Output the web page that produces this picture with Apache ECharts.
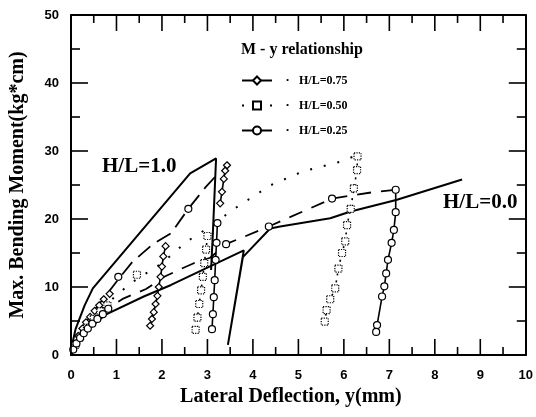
<!DOCTYPE html>
<html>
<head>
<meta charset="utf-8">
<script src="https://cdn.jsdelivr.net/npm/echarts@6/dist/echarts.min.js"></script>
<style>
  html, body { margin: 0; padding: 0; background: #fff; }
  #chart { width: 536px; height: 417px; }
</style>
</head>
<body>
<div id="chart"></div>
<script>
// Axis ranges and tick values
const xTicks = [0, 1, 2, 3, 4, 5, 6, 7, 8, 9, 10];
const yTicks = [0, 10, 20, 30, 40, 50];
const xMinorTicks = [0.5, 1.5, 2.5, 3.5, 4.5, 5.5, 6.5, 7.5, 8.5, 9.5];
const yMinorTicks = [5, 15, 25, 35, 45];

// H/L = 1.0 and H/L = 0.0 envelopes (plain solid lines)
const hl10 = [[0, 0], [0.04, 2], [0.1, 3.8], [0.3, 7.3], [0.48, 9.8], [2.62, 26.7], [3.19, 28.9], [3.12, 18], [3.08, 12.5]];
const hl00 = [[0, 0], [0.1, 1.8], [0.3, 3.3], [0.75, 5.9], [1.6, 8.6], [2.2, 10.3], [3.8, 15.4], [3.45, 1.5], [3.78, 14.4],
              [4.38, 18.6], [4.6, 18.9], [5.7, 20.1], [6.15, 21.1], [7.15, 22.8], [8.6, 25.8]];

// H/L = 0.75 : envelope, scattered points, unloading branches
const env75 = [[0, 0], [0.15, 2.6], [0.3, 4.5], [0.5, 6.5], [0.75, 8.6], [1.05, 11.2], [1.35, 13.7], [1.8, 16.3],
               [2.2, 17.9], [2.58, 21.5], [2.95, 24.6], [3.25, 26.8]];
const pts75 = [[0.08, 1.5], [0.16, 2.8], [0.25, 3.9], [0.33, 4.8], [0.42, 5.6], [0.52, 6.5], [0.62, 7.3], [0.72, 8.2], [0.85, 9]];
const branch75a = [[2.08, 16], [2.03, 14.5], [2.0, 13], [1.97, 11.5], [1.93, 10], [1.9, 8.7], [1.86, 7.5], [1.82, 6.3], [1.78, 5.3], [1.74, 4.3]];
const branch75b = [[3.43, 27.9], [3.39, 27.1], [3.36, 25.9], [3.32, 24], [3.28, 22.3]];

// H/L = 0.50
const env50 = [[0, 0], [0.3, 3.5], [0.7, 7], [1.3, 10.5], [2.0, 13.5], [2.55, 16.7], [2.9, 18.2], [3.7, 22], [4.05, 23.5],
               [4.4, 25], [5.1, 27], [5.5, 27.7], [5.9, 28.4], [6.3, 29.4]];
const pts50 = [[0.1, 1.5], [0.2, 2.6], [0.35, 4], [0.5, 5.3], [0.65, 6.4], [0.8, 7.3], [1.45, 11.8]];
const branch50a = [[3.0, 17.5], [2.97, 15.5], [2.93, 13.5], [2.9, 11.5], [2.86, 9.5], [2.82, 7.5], [2.78, 5.5], [2.74, 3.7]];
const branch50b = [[6.3, 29.2], [6.29, 27.2], [6.22, 24.5], [6.15, 21.5], [6.07, 19.1], [6.03, 16.7], [5.96, 15], [5.88, 12.7],
                   [5.81, 9.8], [5.7, 8.2], [5.62, 6.6], [5.58, 4.9]];

// H/L = 0.25
const env25 = [[0, 0], [0.2, 2.2], [0.5, 4.5], [0.8, 6.8], [1.15, 8.3], [1.65, 9.7], [2.05, 11.5], [2.4, 12.6], [2.7, 13.5],
               [3.06, 14.3], [3.41, 16.3], [4.35, 18.9], [5.74, 23.0], [6.6, 23.9], [7.14, 24.3]];
const pts25 = [[0.05, 0.8], [0.12, 1.7], [0.2, 2.5], [0.28, 3.2], [0.37, 3.9], [0.47, 4.6], [0.58, 5.3], [0.7, 6], [0.82, 6.8],
               [1.04, 11.5], [3.41, 16.3], [4.35, 18.9], [5.74, 23.0], [2.58, 21.5]];
const branch25a = [[3.22, 19.4], [3.2, 16.5], [3.18, 14], [3.16, 11], [3.14, 8.5], [3.12, 6], [3.1, 3.8]];
const branch25b = [[7.14, 24.3], [7.14, 21.0], [7.1, 18.4], [7.05, 16.5], [6.97, 14], [6.93, 12], [6.89, 10.1], [6.84, 8.6],
                   [6.73, 4.4], [6.71, 3.4]];

const SERIF = 'Liberation Serif';
const SANS = 'Liberation Sans';
const INK = '#000';

// Layout of the plotting area
const GRID = { left: 71, right: 10, top: 15, bottom: 62 };
const CHART_W = 536, CHART_H = 417;
const X_MIN = xTicks[0], X_MAX = xTicks[xTicks.length - 1];
const Y_MIN = yTicks[0], Y_MAX = yTicks[yTicks.length - 1];
const pxPerX = (CHART_W - GRID.left - GRID.right) / (X_MAX - X_MIN);
const pxPerY = (CHART_H - GRID.top - GRID.bottom) / (Y_MAX - Y_MIN);

function curve(name, data, dash, symbol, extra) {
  return Object.assign({
    name: name, type: 'line', data: data,
    symbol: symbol, symbolSize: 7, showSymbol: false,
    lineStyle: { color: INK, width: 1.8, type: dash },
    itemStyle: { color: '#fff', borderColor: INK, borderWidth: 1.2 },
    silent: true, animation: false, z: 3
  }, extra || {});
}
function marks(name, data, symbol, border) {
  return {
    name: name, type: 'line', data: data,
    symbol: symbol, symbolSize: 7, showSymbol: true,
    lineStyle: { width: 0, opacity: 0 },
    itemStyle: { color: '#fff', borderColor: INK, borderWidth: 1.2, borderType: border || 'solid' },
    silent: true, animation: false, z: 4
  };
}
function branch(name, data, dash, symbol, border) {
  return {
    name: name, type: 'line', data: data,
    symbol: symbol, symbolSize: 7, showSymbol: true,
    lineStyle: { color: INK, width: 1.6, type: dash },
    itemStyle: { color: '#fff', borderColor: INK, borderWidth: 1.2, borderType: border || 'solid' },
    silent: true, animation: false, z: 4
  };
}

// Inward frame ticks on all four sides, each a short segment in axis units
function tickSeg(a, b) {
  return {
    name: 'frame tick', type: 'line', data: [a, b], symbol: 'none', clip: false,
    lineStyle: { color: INK, width: 1.6, type: 'solid' },
    silent: true, animation: false, z: 6
  };
}
const tickSeries = [];
function addXTick(v, px) {
  const d = px / pxPerY;
  tickSeries.push(tickSeg([v, Y_MIN], [v, Y_MIN + d]));
  tickSeries.push(tickSeg([v, Y_MAX], [v, Y_MAX - d]));
}
function addYTick(v, px) {
  const d = px / pxPerX;
  tickSeries.push(tickSeg([X_MIN, v], [X_MIN + d, v]));
  tickSeries.push(tickSeg([X_MAX, v], [X_MAX - d, v]));
}
xTicks.forEach(v => addXTick(v, 16));
xMinorTicks.forEach(v => addXTick(v, 8));
yTicks.forEach(v => addYTick(v, 17));
yMinorTicks.forEach(v => addYTick(v, 9));

function frameAxis(extra) {
  return Object.assign({
    type: 'value',
    axisLine: { show: true, onZero: false, lineStyle: { color: INK, width: 2 } },
    axisTick: { show: false },
    minorTick: { show: false },
    splitLine: { show: false },
    minorSplitLine: { show: false }
  }, extra);
}

const chart = echarts.init(document.getElementById('chart'), null, { renderer: 'canvas' });
chart.setOption({
  backgroundColor: '#fff',
  animation: false,
  grid: GRID,
  xAxis: [
    frameAxis({
      position: 'bottom', min: X_MIN, max: X_MAX, interval: 1,
      axisLabel: { show: true, color: INK, fontFamily: SANS, fontWeight: 'bold', fontSize: 13, margin: 14 },
      name: 'Lateral Deflection, y(mm)', nameLocation: 'middle', nameGap: 30,
      nameTextStyle: { color: INK, fontFamily: SERIF, fontWeight: 'bold', fontSize: 20, padding: [0, 15, 0, 0] }
    }),
    frameAxis({
      position: 'top', min: X_MIN, max: X_MAX, interval: 1,
      axisLabel: { show: false }
    })
  ],
  yAxis: [
    frameAxis({
      position: 'left', min: Y_MIN, max: Y_MAX, interval: 10,
      axisLabel: { show: true, color: INK, fontFamily: SANS, fontWeight: 'bold', fontSize: 13, margin: 12 },
      name: 'Max. Bending Moment(kg*cm)', nameLocation: 'middle', nameGap: 43,
      nameTextStyle: { color: INK, fontFamily: SERIF, fontWeight: 'bold', fontSize: 20 }
    }),
    frameAxis({
      position: 'right', min: Y_MIN, max: Y_MAX, interval: 10,
      axisLabel: { show: false }
    })
  ],
  legend: {
    orient: 'vertical', left: 236, top: 69, padding: 5, itemWidth: 30, itemHeight: 10, itemGap: 12,
    data: [
      { name: 'H/L=0.75', lineStyle: { type: 'solid' } },
      { name: 'H/L=0.50' },
      { name: 'H/L=0.25', lineStyle: { type: 'solid' } }
    ],
    formatter: n => '{d|·}{t|' + n + '}',
    textStyle: {
      color: INK,
      rich: {
        d: { width: 22, align: 'center', fontSize: 13, fontWeight: 'bold', color: INK },
        t: { fontFamily: SERIF, fontWeight: 'bold', fontSize: 12, color: INK }
      }
    },
    selectedMode: false
  },
  graphic: [
    { type: 'text', left: 241, top: 42, style: { text: 'M - y relationship', fill: INK, font: 'bold 16px "Liberation Serif"' } },
    { type: 'text', left: 102, top: 156, style: { text: 'H/L=1.0', fill: INK, font: 'bold 21px "Liberation Serif"' } },
    { type: 'text', left: 443, top: 192, style: { text: 'H/L=0.0', fill: INK, font: 'bold 21px "Liberation Serif"' } }
  ],
  series: [
    curve('H/L=0.75', env75, [16, 8], 'diamond'),
    curve('H/L=0.50', env50, [2, 12], 'rect', { itemStyle: { color: '#fff', borderColor: INK, borderWidth: 1.2, borderType: 'dotted' }, lineStyle: { color: INK, width: 2, type: [2, 12] } }),
    curve('H/L=0.25', env25, [14, 10], 'circle'),
    curve('H/L=1.0', hl10, 'solid', 'none', { lineStyle: { color: INK, width: 2, type: 'solid' } }),
    curve('H/L=0.0', hl00, 'solid', 'none', { lineStyle: { color: INK, width: 2, type: 'solid' } }),
    marks('H/L=0.75', pts75, 'diamond'),
    branch('H/L=0.75', branch75a, 'solid', 'diamond'),
    branch('H/L=0.75', branch75b, 'solid', 'diamond'),
    marks('H/L=0.50', pts50, 'rect', 'dotted'),
    branch('H/L=0.50', branch50a, [2, 5], 'rect', 'dotted'),
    branch('H/L=0.50', branch50b, [2, 5], 'rect', 'dotted'),
    marks('H/L=0.25', pts25, 'circle'),
    branch('H/L=0.25', branch25a, 'solid', 'circle'),
    branch('H/L=0.25', branch25b, 'solid', 'circle')
  ].concat(tickSeries)
});
</script>
</body>
</html>
